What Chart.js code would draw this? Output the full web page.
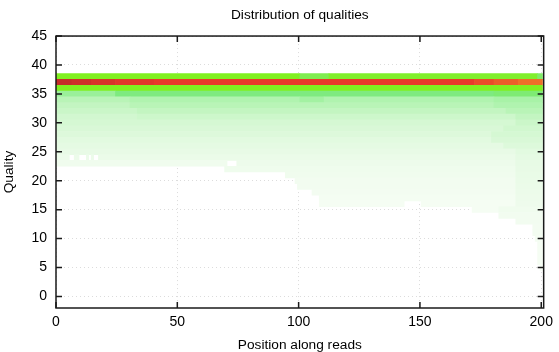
<!DOCTYPE html>
<html>
<head>
<meta charset="utf-8">
<title>Distribution of qualities</title>
<script src="https://cdn.jsdelivr.net/npm/chart.js@4.4.1/dist/chart.umd.min.js"></script>
<style>
  html, body { margin: 0; padding: 0; background: #fff; }
</style>
</head>
<body>
<canvas id="heat" width="559" height="352"></canvas>
<script>
// quality rows, and for each row runs of read positions: [from, to, % of reads]
const qualities = [38, 37, 36, 35, 34, 33, 32, 31, 30, 29, 28, 27, 26, 25, 24, 23, 22, 21, 20, 19, 18, 17, 16, 15, 14, 13, 12, 11, 10, 9, 8, 7, 6, 5];
const rowRuns = [
    [[0, 100, 20], [101, 112, 16], [113, 198, 19], [199, 200, 14]],
    [[0, 6, 31], [7, 14, 34], [15, 24, 38], [25, 40, 42], [41, 172, 45], [173, 180, 49], [181, 190, 53], [191, 200, 57]],
    [[0, 200, 20]],
    [[0, 24, 9.5], [25, 180, 12], [181, 200, 13]],
    [[0, 30, 6], [31, 100, 7], [101, 110, 8.5], [111, 180, 7], [181, 200, 8]],
    [[0, 30, 5], [31, 180, 6], [181, 200, 7]],
    [[0, 33, 4.3], [34, 185, 5], [186, 200, 6]],
    [[0, 33, 3.5], [34, 189, 4], [190, 200, 5]],
    [[0, 189, 3.2], [190, 200, 4.2]],
    [[0, 184, 2.8], [185, 200, 3.6]],
    [[0, 179, 2.4], [180, 200, 3.2]],
    [[0, 179, 2], [180, 200, 2.8]],
    [[0, 184, 1.7], [185, 200, 2.4]],
    [[0, 189, 1.4], [190, 200, 2]],
    [[0, 5, 1], [8, 9, 1], [13, 13, 1], [15, 15, 1], [18, 189, 1.1], [190, 200, 1.7]],
    [[0, 70, 0.7], [75, 189, 0.9], [190, 200, 1.5]],
    [[70, 189, 0.8], [190, 200, 1.4]],
    [[95, 189, 0.7], [190, 200, 1.3]],
    [[99, 189, 0.6], [190, 200, 1.2]],
    [[100, 189, 0.55], [190, 200, 1.1]],
    [[106, 189, 0.5], [190, 200, 1]],
    [[109, 189, 0.45], [190, 200, 0.9]],
    [[109, 143, 0.4], [151, 189, 0.4], [190, 200, 0.85]],
    [[172, 182, 0.35], [183, 200, 0.7]],
    [[183, 200, 0.6]],
    [[190, 200, 0.55]],
    [[197, 200, 0.5]],
    [[197, 200, 0.5]],
    [[198, 200, 0.45]],
    [[199, 200, 0.4]],
    [[199, 200, 0.4]],
    [[199, 200, 0.35]],
    [[199, 200, 0.35]],
    [[200, 200, 0.3]]
];
const xTicks = [0, 50, 100, 150, 200];
const yTicks = [0, 5, 10, 15, 20, 25, 30, 35, 40, 45];

// palette: % of reads -> colour
const paletteStops = [0, 0.3, 1, 3, 6, 10, 12, 20, 30, 45, 60];
const paletteColours = [
    [255, 255, 255], [246, 253, 244], [236, 251, 234], [215, 248, 213], [185, 244, 183],
    [150, 239, 150], [126, 234, 128], [128, 240, 32], [195, 45, 40], [232, 58, 42], [238, 125, 40]
];

function colourFor(v) {
    let i = 1;
    while (i < paletteStops.length - 1 && v > paletteStops[i]) i++;
    const a = paletteStops[i - 1], b = paletteStops[i];
    const t = Math.max(0, Math.min(1, (v - a) / (b - a)));
    const c0 = paletteColours[i - 1], c1 = paletteColours[i];
    const c = c0.map((x, k) => Math.round(x + (c1[k] - x) * t));
    return 'rgb(' + c[0] + ',' + c[1] + ',' + c[2] + ')';
}

// one floating bar per run, centred on integer positions
const cells = [];
qualities.forEach((q, i) => {
    rowRuns[i].forEach(r => cells.push({ y: q, x: [r[0] - 0.5, r[1] + 0.5], v: r[2] }));
});

const fontFam = '"Liberation Sans", Arial, Helvetica, sans-serif';

// black box with inward ticks, like gnuplot
const framePlugin = {
    id: 'frame',
    afterDraw(chart) {
        const { ctx, chartArea: a, scales } = chart;
        ctx.save();
        ctx.strokeStyle = '#1a1a1a';
        ctx.lineWidth = 1.5;
        ctx.strokeRect(a.left, a.top, a.right - a.left, a.bottom - a.top);
        ctx.beginPath();
        xTicks.forEach(v => {
            const px = scales.x.getPixelForValue(v);
            ctx.moveTo(px, a.bottom); ctx.lineTo(px, a.bottom - 6);
            ctx.moveTo(px, a.top); ctx.lineTo(px, a.top + 6);
        });
        yTicks.forEach(v => {
            const py = scales.y.getPixelForValue(v);
            ctx.moveTo(a.left, py); ctx.lineTo(a.left + 6, py);
            ctx.moveTo(a.right, py); ctx.lineTo(a.right - 6, py);
        });
        ctx.stroke();
        ctx.restore();
    }
};

const heat = new Chart(document.getElementById('heat').getContext('2d'), {
    type: 'bar',
    data: {
        datasets: [{
            data: cells,
            backgroundColor: c => colourFor(c.raw ? c.raw.v : 0),
            borderWidth: 0,
            barPercentage: 1,
            categoryPercentage: 1
        }]
    },
    options: {
        indexAxis: 'y',
        responsive: false,
        animation: false,
        layout: { padding: { left: 0, right: 13, top: 0, bottom: 0 } },
        plugins: {
            legend: { display: false },
            tooltip: { enabled: false },
            title: {
                display: true,
                fullSize: false,
                text: 'Distribution of qualities',
                color: '#000',
                font: { family: fontFam, size: 13.7, weight: 'normal' },
                padding: { top: 7, bottom: 12.6 }
            }
        },
        scales: {
            x: {
                type: 'linear',
                min: 0,
                max: 201,
                offset: false,
                z: 1,
                afterBuildTicks: s => { s.ticks = xTicks.map(v => ({ value: v })); },
                afterFit: s => { s.height = 44; },
                grid: { offset: false, color: 'rgba(185,185,185,0.5)', lineWidth: 1, drawTicks: false },
                border: { display: false, dash: [1, 3] },
                ticks: { color: '#000', padding: 6, maxRotation: 0, font: { family: fontFam, size: 14 } },
                title: {
                    display: true,
                    text: 'Position along reads',
                    color: '#000',
                    font: { family: fontFam, size: 13.7, lineHeight: 1 },
                    padding: { top: 0, bottom: 0 }
                }
            },
            y: {
                type: 'linear',
                min: -2,
                max: 45,
                offset: false,
                z: 1,
                afterBuildTicks: s => { s.ticks = yTicks.map(v => ({ value: v })); },
                afterFit: s => { s.width = 56; },
                grid: { offset: false, color: 'rgba(185,185,185,0.5)', lineWidth: 1, drawTicks: false },
                border: { display: false, dash: [1, 3] },
                ticks: { color: '#000', padding: 9, font: { family: fontFam, size: 14 } },
                title: {
                    display: true,
                    text: 'Quality',
                    color: '#000',
                    font: { family: fontFam, size: 13.7, lineHeight: 1 },
                    padding: { top: 2, bottom: 0 }
                }
            }
        }
    },
    plugins: [framePlugin]
});
</script>
</body>
</html>
